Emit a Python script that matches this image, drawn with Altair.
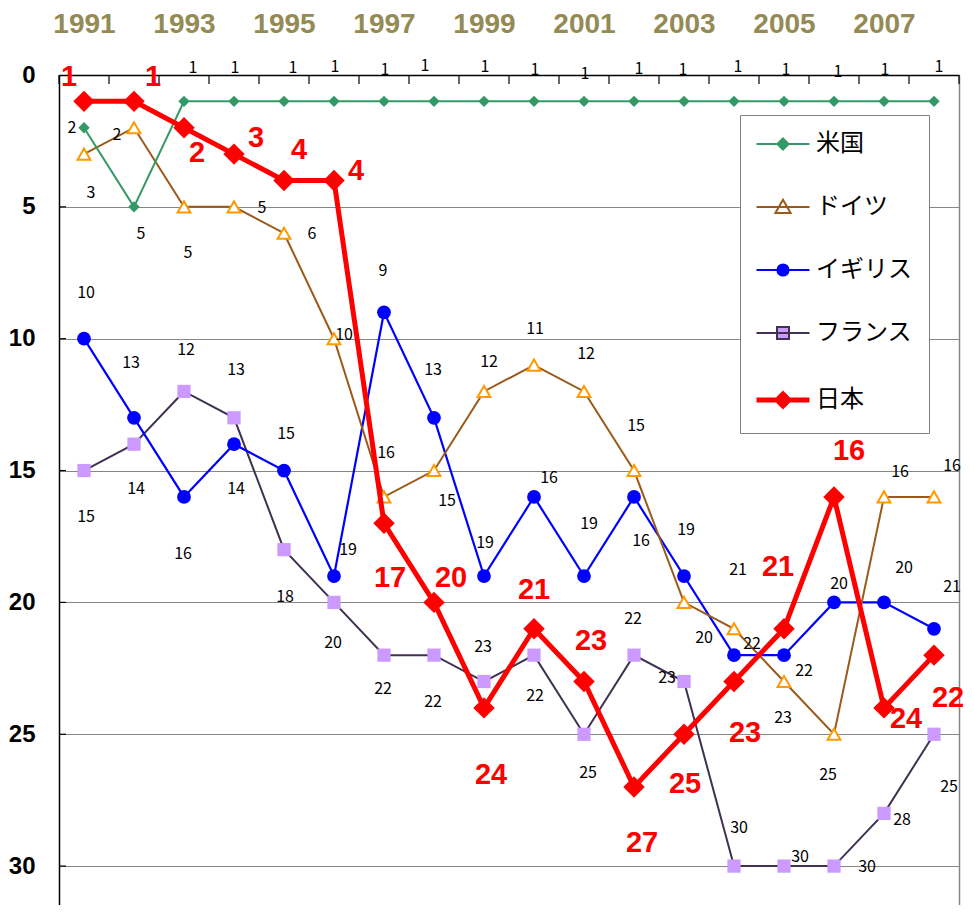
import altair as alt
import pandas as pd

# ---------------- data ----------------
YEARS = [1991, 1992, 1993, 1994, 1995, 1996, 1997, 1998, 1999,
         2000, 2001, 2002, 2003, 2004, 2005, 2006, 2007, 2008]
COUNTRIES = ["米国", "ドイツ", "イギリス", "フランス", "日本"]

RANK_US = [2, 5, 1, 1, 1, 1, 1, 1, 1, 1, 1, 1, 1, 1, 1, 1, 1, 1]
RANK_DE = [3, 2, 5, 5, 6, 10, 16, 15, 12, 11, 12, 15, 20, 21, 23, 25, 16, 16]
RANK_UK = [10, 13, 16, 14, 15, 19, 9, 13, 19, 16, 19, 16, 19, 22, 22, 20, 20, 21]
RANK_FR = [15, 14, 12, 13, 18, 20, 22, 22, 23, 22, 25, 22, 23, 30, 30, 30, 28, 25]
RANK_JP = [1, 1, 2, 3, 4, 4, 17, 20, 24, 21, 23, 27, 25, 23, 21, 16, 24, 22]

YEAR_LABELS = [1991, 1993, 1995, 1997, 1999, 2001, 2003, 2005, 2007]
RANK_TICKS = [0, 5, 10, 15, 20, 25, 30]

RANKS = {"米国": RANK_US, "ドイツ": RANK_DE, "イギリス": RANK_UK,
         "フランス": RANK_FR, "日本": RANK_JP}

# ---------------- styling (label nudges in pixels, not data) ----------------
NUDGE = {
    "米国": ([-12, 7, 9, 1, 9, 1, 1, -9, 1, 1, 1, 5, -1, 4, 2, 4, 1, 5],
             [0, 27, -33, -33, -33, -34, -31, -35, -34, -31, -27, -32, -31, -34, -31, -29, -31, -34]),
    "ドイツ": ([7, -17, 4, 28, 28, 10, 2, 13, 5, 1, 2, 2, 20, 4, -1, -6, 16, 18],
             [39, 7, 46, 1, 1, -4, -44, 30, -29, -36, -37, -45, 36, -59, 36, 41, -25, -31]),
    "イギリス": ([2, -3, -1, 2, 2, 14, -1, -1, 1, 15, 5, 7, 2, 18, 20, 5, 20, 18],
              [-46, -55, 57, 45, -37, -26, -41, -48, -33, -19, -52, 44, -46, -11, 16, -18, -34, -42]),
    "フランス": ([2, 2, 2, 2, 1, -1, -1, -1, -1, 1, 4, -1, -17, 5, 16, 33, 18, 15],
              [46, 45, -41, -48, 47, 41, 34, 47, -35, 41, 39, -36, -4, -38, -9, 1, 7, 53]),
    "日本": ([-15, 19, 13, 22, 15, 22, 6, 17, 7, 0, 7, 8, 1, 11, -6, 15, 22, 14],
           [-24, -24, 25, -16, -30, -9, 55, -24, 67, -39, -41, 56, 50, 51, -62, -46, 11, 43]),
}

STYLE = {
    "米国": dict(line="#339966", lw=2, shape="diamond", size=130, fill="#339966", stroke="#339966", sw=0),
    "ドイツ": dict(line="#9B5A1A", lw=2, shape="triangle-up", size=165, fill="white", stroke="#FF9900", sw=2),
    "イギリス": dict(line="#0000FF", lw=2.2, shape="circle", size=190, fill="#0000FF", stroke="#0000FF", sw=0),
    "フランス": dict(line="#403152", lw=2, shape="square", size=175, fill="#CC99FF", stroke="#CC99FF", sw=0),
    "日本": dict(line="#FF0000", lw=5, shape="diamond", size=460, fill="#FF0000", stroke="#FF0000", sw=0),
}

LEGEND_PATHS = [
    "M-1.325,0L1.325,0M-0.28,0L0,-0.28L0.28,0L0,0.28Z",
    "M-1.325,0L1.325,0M0,-0.36L0.38,0.3L-0.38,0.3Z",
    "M-1.325,0L1.325,0M0.28,0A0.28,0.28,0,1,1,-0.28,0A0.28,0.28,0,1,1,0.28,0Z",
    "M-1.325,0L1.325,0M-0.3,-0.3L0.3,-0.3L0.3,0.3L-0.3,0.3Z",
    "M-1.325,0L1.325,0M-0.3,0L0,-0.3L0.3,0L0,0.3Z",
]

PX_PER_RANK = 26.37
PLOT_W, PLOT_H = 900, 830
PX_PER_YEAR = PLOT_W / len(YEARS)
YMAX = PLOT_H / PX_PER_RANK
TOP_TICK_LEN = 9 / PX_PER_RANK      # 9 px expressed in rank units
LEFT_TICK_LEN = 7 / PX_PER_YEAR     # 7 px expressed in year units

rows = []
for c in COUNTRIES:
    dxs, dys = NUDGE[c]
    for i, yr in enumerate(YEARS):
        rows.append({"country": c, "year": yr, "rank": RANKS[c][i], "dx": dxs[i], "dy": dys[i]})
df = pd.DataFrame(rows)

XMIN, XMAX = YEARS[0] - 0.5, YEARS[-1] + 0.5
bounds_df = pd.DataFrame({"b": [XMIN + i for i in range(len(YEARS) + 1)]})
rticks_df = pd.DataFrame({"t": RANK_TICKS[1:]})

xscale = alt.Scale(domain=[XMIN, XMAX], nice=False, zero=False)
yscale = alt.Scale(domain=[0, YMAX], reverse=True, nice=False, zero=False)

AXIS_X_LABELS = alt.Axis(orient="top", values=YEAR_LABELS, format="d", title=None,
                         ticks=False, tickSize=0, grid=False, domain=True, domainColor="black",
                         domainWidth=1.5, labelFont="Liberation Sans", labelFontWeight="bold",
                         labelFontSize=28, labelColor="#948A54", labelPadding=51,
                         labelBaseline="middle", labelOverlap=False)
AXIS_Y_LEFT = alt.Axis(orient="left", values=RANK_TICKS, title=None, grid=True,
                       gridColor="#868686", gridWidth=1, domain=True, domainColor="black",
                       domainWidth=1.5, ticks=False, tickSize=0, labelFont="Liberation Sans",
                       labelFontWeight="bold", labelFontSize=24, labelColor="black",
                       labelPadding=24, labelAlign="right", labelBaseline="middle")
AXIS_Y_RIGHT = alt.Axis(orient="right", title=None, labels=False, ticks=False, grid=False,
                        domain=True, domainColor="#868686", domainWidth=1.5)

DRAW_ORDER = ["フランス", "イギリス", "ドイツ", "米国", "日本"]

layers = []

# inward tick marks on the top (category boundaries) and on the left axis
layers.append(
    alt.Chart(bounds_df)
    .transform_calculate(t0="0", t1=str(TOP_TICK_LEN))
    .mark_rule(color="#000000", strokeWidth=1.2, opacity=1)
    .encode(x=alt.X("b:Q", scale=xscale, axis=AXIS_X_LABELS),
            y=alt.Y("t0:Q", scale=yscale, axis=AXIS_Y_LEFT),
            y2="t1:Q")
)
layers.append(
    alt.Chart(rticks_df)
    .transform_calculate(s0=str(XMIN), s1=str(XMIN + LEFT_TICK_LEN))
    .mark_rule(color="#000000", strokeWidth=1.2, opacity=1)
    .encode(y=alt.Y("t:Q", scale=yscale, axis=AXIS_Y_RIGHT),
            x=alt.X("s0:Q", scale=xscale, axis=None),
            x2="s1:Q")
)

for c in DRAW_ORDER:
    s = STYLE[c]
    src = alt.Chart(df).transform_filter(alt.datum.country == c)
    enc = dict(x=alt.X("year:Q", scale=xscale, axis=None),
               y=alt.Y("rank:Q", scale=yscale, axis=None))
    layers.append(src.mark_line(color=s["line"], strokeWidth=s["lw"]).encode(**enc))
    layers.append(src.mark_point(shape=s["shape"], size=s["size"], filled=False,
                                 fill=s["fill"], stroke=s["stroke"], strokeWidth=s["sw"],
                                 opacity=1).encode(**enc))

for c in DRAW_ORDER:
    if c == "日本":
        tstyle = dict(font="Liberation Sans", fontSize=29, fontWeight="bold", color="#FF0000")
    else:
        tstyle = dict(font="Noto Sans CJK JP", fontSize=16, fontWeight="normal", color="black")
    layers.append(
        alt.Chart(df).transform_filter(alt.datum.country == c)
        .transform_calculate(lx="datum.year + datum.dx / %f" % PX_PER_YEAR,
                             ly="datum.rank + datum.dy / %f" % PX_PER_RANK)
        .mark_text(align="center", baseline="middle", **tstyle)
        .encode(x=alt.X("lx:Q", scale=xscale, axis=None),
                y=alt.Y("ly:Q", scale=yscale, axis=None),
                text=alt.Text("rank:Q", format="d"))
    )


def per_country(values):
    def lit(v):
        return "'%s'" % v if isinstance(v, str) else str(v)
    expr = lit(values[-1])
    for c, v in reversed(list(zip(COUNTRIES[:-1], values[:-1]))):
        expr = "datum.value == '%s' ? %s : (%s)" % (c, lit(v), expr)
    return expr


LEG_STROKE = [STYLE[c]["line"] for c in COUNTRIES]
LEG_FILL = ["#339966", "white", "#0000FF", "#CC99FF", "#FF0000"]
LEG_SW = [2, 2, 2, 2, 5]

legend_layer = (
    alt.Chart(df).transform_filter("false")
    .mark_point(fill=alt.ExprRef(per_country(LEG_FILL)),
                stroke=alt.ExprRef(per_country(LEG_STROKE)), opacity=1)
    .encode(
        x=alt.X("year:Q", scale=xscale, axis=None),
        y=alt.Y("rank:Q", scale=yscale, axis=None),
        shape=alt.Shape("country:N",
                        scale=alt.Scale(domain=COUNTRIES, range=LEGEND_PATHS),
                        legend=alt.Legend(orient="none", legendX=681, legendY=40, title=None,
                                          fillColor="white", strokeColor="#808080",
                                          padding=17, symbolSize=1600, symbolOffset=14,
                                          labelOffset=21, rowPadding=39,
                                          labelFont="Noto Sans CJK JP", labelFontSize=24,
                                          labelColor="black", symbolOpacity=1,
                                          symbolStrokeWidth=alt.ExprRef(per_country(LEG_SW)))),
    )
)
layers.append(legend_layer)

chart = (
    alt.layer(*layers)
    .resolve_axis(x="independent", y="independent")
    .properties(width=PLOT_W, height=PLOT_H,
                autosize=alt.AutoSizeParams(type="none"),
                padding={"left": 51, "top": 67, "right": 7, "bottom": 0},
                background="white")
    .configure_view(stroke=None)
)

chart.save("out.html", embed_options={"renderer": "svg", "actions": False})
